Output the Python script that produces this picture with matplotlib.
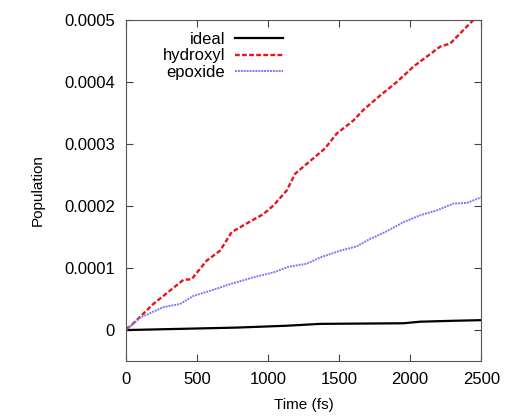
import matplotlib
matplotlib.use('Agg')
import matplotlib.pyplot as plt
from matplotlib.ticker import FuncFormatter

plt.rcParams['font.family'] = ['Liberation Sans', 'DejaVu Sans']

# values
t_hyd = [0, 30, 192, 404, 462, 568, 662, 744, 850, 967, 1038, 1131, 1190, 1272,
         1401, 1484, 1601, 1671, 1777, 1906, 2024, 2129, 2211, 2282, 2376, 2458, 2500]
hydroxyl = [0.000002, 0.000006, 0.000042, 0.000081, 0.000082, 0.000112, 0.000128,
            0.000158, 0.000172, 0.000187, 0.000201, 0.000225, 0.000252, 0.000268,
            0.000293, 0.000317, 0.000338, 0.000355, 0.000376, 0.0004, 0.000425,
            0.000443, 0.000457, 0.000462, 0.000484, 0.000503, 0.000512]

t_epo = [0, 99, 263, 380, 474, 615, 732, 897, 1038, 1143, 1272, 1366, 1507, 1624,
         1718, 1824, 1953, 2070, 2188, 2305, 2399, 2500]
epoxide = [0.0, 0.00002, 0.000037, 0.000042, 0.000055, 0.000065, 0.000074, 0.000085,
           0.000093, 0.000102, 0.000107, 0.000117, 0.000128, 0.000135, 0.000147,
           0.000158, 0.000174, 0.000185, 0.000193, 0.000204, 0.000205, 0.000214]

t_ideal = [0, 310, 779, 1131, 1366, 1953, 2070, 2305, 2500]
ideal = [0.0, 0.0000016, 0.000004, 0.000007, 0.00001, 0.000011, 0.0000135, 0.000015, 0.000016]

fig = plt.figure(figsize=(5.06, 4.16), dpi=100)
ax = fig.add_axes([0.249, 0.132, 0.702, 0.820])

ax.plot(t_ideal, ideal, color='black', lw=1.6, label='ideal')
ax.plot(t_hyd, hydroxyl, color='#e8141c', lw=1.7, ls=(0, (2, 1)), label='hydroxyl')
ax.plot(t_epo, epoxide, color='#7a7af0', lw=1.4, ls=(0, (1, 0.5)), label='epoxide')

ax.set_xlim(0, 2500)
ax.set_ylim(-0.00005, 0.0005)
ax.set_xticks([0, 500, 1000, 1500, 2000, 2500])
ax.set_yticks([0, 0.0001, 0.0002, 0.0003, 0.0004, 0.0005])
ax.yaxis.set_major_formatter(FuncFormatter(lambda v, p: '%g' % v))
ax.tick_params(direction='in', top=True, right=True, labelsize=12, length=5,
               color='#444444', pad=8)
for s in ax.spines.values():
    s.set_color('#555555')

ax.set_xlabel('Time (fs)', fontsize=11, labelpad=8)
ax.set_ylabel('Population', fontsize=11, labelpad=14)

ax.legend(loc='upper left', bbox_to_anchor=(0.075, 0.995), frameon=False,
          markerfirst=False, fontsize=12, handlelength=2.9, labelspacing=0.1,
          handletextpad=0.6, borderaxespad=0.2)

fig.savefig('out.png', dpi=100)
